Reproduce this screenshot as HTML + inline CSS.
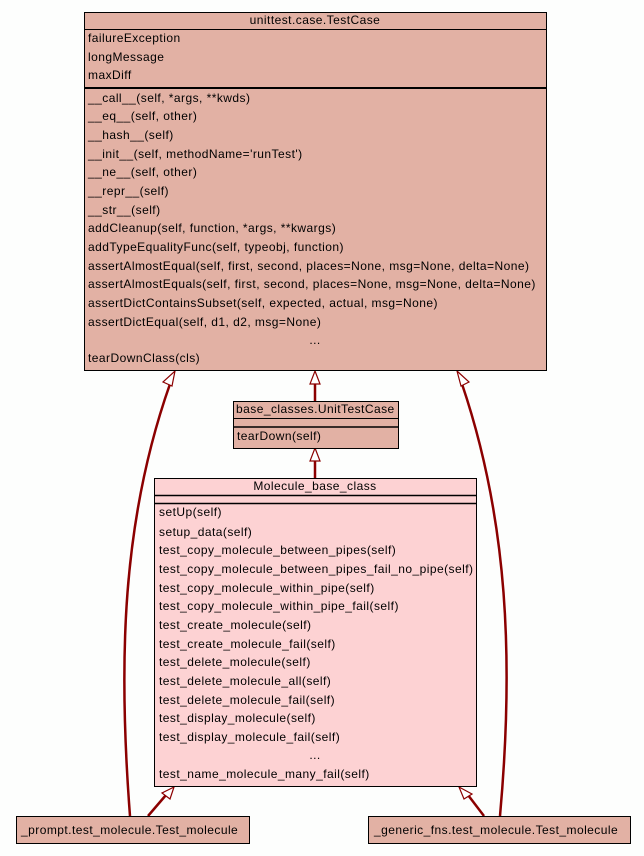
<!DOCTYPE html>
<html><head><meta charset="utf-8"><style>
html,body{margin:0;padding:0;background:#fdfefd;}
svg{display:block;}
text{font-family:"Liberation Sans","DejaVu Sans",sans-serif;font-size:12px;letter-spacing:0.45px;fill:#000;}
</style></head><body>
<svg width="644" height="856" viewBox="0 0 644 856" xmlns="http://www.w3.org/2000/svg">
<rect x="0" y="0" width="644" height="856" fill="#fdfefd"/>
<!-- edges -->
<g stroke="#8b0000" stroke-width="2.5" fill="none">
<path d="M130,816 C118,660 122,520 170,384"/>
<path d="M500,816 C514,660 508,520 462,384"/>
<path d="M315,401 L315,384"/>
<path d="M315,478 L315,461"/>
<path d="M148,816 L166,795"/>
<path d="M484,816 L468,795"/>
</g>
<g stroke="#8b0000" stroke-width="1.2" fill="#fff">
<polygon points="175,371 172,386 163,382"/>
<polygon points="457,371 469,382 461,386"/>
<polygon points="315,371 320,384 310,384"/>
<polygon points="315,448 320,461 310,461"/>
<polygon points="174,787 170,799 162,793"/>
<polygon points="459,787 472,794 464,799"/>
</g>
<!-- TestCase -->
<rect x="84.5" y="12.5" width="462" height="358" fill="#e2b1a4" stroke="#000"/>
<line x1="84" y1="29.5" x2="547" y2="29.5" stroke="#000"/>
<line x1="84" y1="88" x2="547" y2="88" stroke="#000" stroke-width="2"/>
<text x="315" y="24" text-anchor="middle">unittest.case.TestCase</text>
<g>
<text x="88" y="42">failureException</text>
<text x="88" y="61">longMessage</text>
<text x="88" y="79">maxDiff</text>
<text x="88" y="102">__call__(self, *args, **kwds)</text>
<text x="88" y="120">__eq__(self, other)</text>
<text x="88" y="139">__hash__(self)</text>
<text x="88" y="158">__init__(self, methodName='runTest')</text>
<text x="88" y="176">__ne__(self, other)</text>
<text x="88" y="195">__repr__(self)</text>
<text x="88" y="214">__str__(self)</text>
<text x="88" y="232">addCleanup(self, function, *args, **kwargs)</text>
<text x="88" y="251">addTypeEqualityFunc(self, typeobj, function)</text>
<text x="88" y="270">assertAlmostEqual(self, first, second, places=None, msg=None, delta=None)</text>
<text x="88" y="288">assertAlmostEquals(self, first, second, places=None, msg=None, delta=None)</text>
<text x="88" y="307">assertDictContainsSubset(self, expected, actual, msg=None)</text>
<text x="88" y="326">assertDictEqual(self, d1, d2, msg=None)</text>
<text x="315" y="344" text-anchor="middle">...</text>
<text x="88" y="362">tearDownClass(cls)</text>
</g>
<!-- UnitTestCase -->
<rect x="233.5" y="401.5" width="165" height="47" fill="#e2b1a4" stroke="#000"/>
<line x1="233" y1="418.5" x2="399" y2="418.5" stroke="#000"/>
<line x1="233" y1="427" x2="399" y2="427" stroke="#000" stroke-width="1.5"/>
<text x="236" y="413">base_classes.UnitTestCase</text>
<text x="237" y="440">tearDown(self)</text>
<!-- Molecule_base_class -->
<rect x="154.5" y="478.5" width="322" height="308" fill="#fdd2d3" stroke="#000"/>
<line x1="154" y1="495.5" x2="477" y2="495.5" stroke="#000" stroke-width="1.5"/>
<line x1="154" y1="503.5" x2="477" y2="503.5" stroke="#000" stroke-width="1.5"/>
<text x="315" y="490" text-anchor="middle">Molecule_base_class</text>
<text x="159" y="516">setUp(self)</text>
<text x="159" y="536">setup_data(self)</text>
<text x="159" y="554">test_copy_molecule_between_pipes(self)</text>
<text x="159" y="573">test_copy_molecule_between_pipes_fail_no_pipe(self)</text>
<text x="159" y="592">test_copy_molecule_within_pipe(self)</text>
<text x="159" y="610">test_copy_molecule_within_pipe_fail(self)</text>
<text x="159" y="629">test_create_molecule(self)</text>
<text x="159" y="648">test_create_molecule_fail(self)</text>
<text x="159" y="666">test_delete_molecule(self)</text>
<text x="159" y="685">test_delete_molecule_all(self)</text>
<text x="159" y="704">test_delete_molecule_fail(self)</text>
<text x="159" y="722">test_display_molecule(self)</text>
<text x="159" y="741">test_display_molecule_fail(self)</text>
<text x="315" y="759" text-anchor="middle">...</text>
<text x="159" y="778">test_name_molecule_many_fail(self)</text>
<!-- bottom -->
<rect x="16.5" y="816.5" width="233" height="27" fill="#e2b1a4" stroke="#000"/>
<text x="21" y="834">_prompt.test_molecule.Test_molecule</text>
<rect x="368.5" y="816.5" width="262" height="27" fill="#e2b1a4" stroke="#000"/>
<text x="374" y="834">_generic_fns.test_molecule.Test_molecule</text>
</svg>
</body></html>
